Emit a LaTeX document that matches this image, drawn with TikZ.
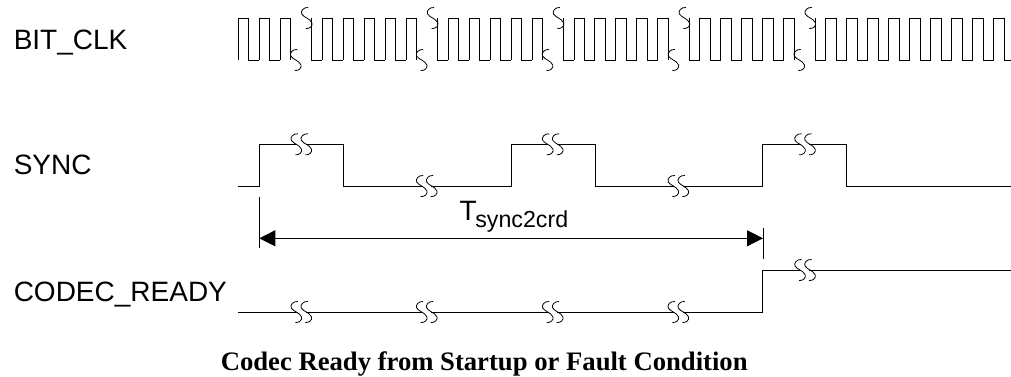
\documentclass[tikz,border=0pt]{standalone}
\usepackage{fontspec}
\setmainfont{Liberation Sans}
\newfontfamily\capfont{Liberation Serif}
\usetikzlibrary{arrows.meta}
\tikzset{
  signame/.style={anchor=base west, inner sep=0pt, font=\fontsize{21}{24}\selectfont},
  wave/.style={line width=0.7pt, line join=miter},
  squig/.pic={\draw[line width=0.6pt] (1.5,-10.5) .. controls (-3,-11) and (-6.5,-7) .. (-5,-4) .. controls (-4,-1.5) and (-1.5,-1.5) .. (0,0) .. controls (1.5,1.5) and (4.5,2) .. (5.3,5) .. controls (6,8) and (3,11) .. (-1,10.5);},
  wavebreak/.pic={\draw[white, line width=1.6pt] (0.6,0) -- (9.4,0); \pic at (0,0) {squig}; \pic at (10,0) {squig};},
}
\begin{document}
\begin{tikzpicture}[x=0.75pt, y=-0.75pt]
\useasboundingbox (0,0) rectangle (1011,377);
\node[signame] (bitclk) at (13.5,49.3)  {BIT\_CLK};
\node[signame] (sync)   at (13.5,175)   {SYNC};
\node[signame] (codec)  at (13.5,301.7) {CODEC\_READY};
\node[signame] (tsync)  at (459.3,221)  {T\kern-1pt\raisebox{-4.7pt}{\fontsize{17.4}{20}\selectfont sync2crd}};
\node[anchor=base west, inner sep=0pt, font=\capfont\bfseries\fontsize{20}{24}\selectfont] (title) at (220.5,371) {Codec Ready from Startup or Fault Condition};
% bit clock
\foreach \i in {0,...,36} {
  \pgfmathsetmacro{\xr}{238.3+20.98*\i}
  \pgfmathsetmacro{\xf}{\xr+10.49}
  \pgfmathsetmacro{\xe}{min(\xr+20.98,1011)}
  \pgfmathtruncatemacro{\m}{\i<30 ? mod(\i,6) : 0}
  \ifnum\m=2
    \draw[wave] (\xr,60) -- (\xr,18) -- (\xf,18) -- (\xf,60);
    \pic at (\xf+5,60) {squig};
  \else\ifnum\m=3
    \draw[wave] (\xf,18) -- (\xf,60) -- (\xe,60);
    \pic at (\xf-5,18) {squig};
  \else
    \draw[wave] (\xr,60) -- (\xr,18) -- (\xf,18) -- (\xf,60) -- (\xe,60);
  \fi\fi
}
% sync
\draw[wave] (238,186) -- (259.3,186) -- (259.3,144.3) -- (343.3,144.3) -- (343.3,186) -- (511.3,186) -- (511.3,144.3) -- (595,144.3) -- (595,186) -- (762.7,186) -- (762.7,144.3) -- (846.7,144.3) -- (846.7,186) -- (1011,186);
\foreach \x in {296.3,547.7,800} \pic at (\x,144.3) {wavebreak};
\foreach \x in {421.7,673.3} \pic at (\x,186) {wavebreak};
% codec ready
\draw[wave] (238,312) -- (762.7,312) -- (762.7,270) -- (1011,270);
\foreach \x in {296.3,421.7,547.7,673.3} \pic at (\x,312) {wavebreak};
\pic at (800,270) {wavebreak};
% measure
\coordinate (tsa) at (259.3,238.3);
\coordinate (tsb) at (763,238.3);
\draw[line width=0.6pt] (259.3,197) -- (259.3,248);
\draw[line width=0.6pt] (763,228) -- (763,259);
\draw[line width=0.6pt, {Triangle[length=12pt,width=12pt]}-{Triangle[length=12pt,width=12pt]}] (tsa) -- (tsb);
\end{tikzpicture}
\end{document}
